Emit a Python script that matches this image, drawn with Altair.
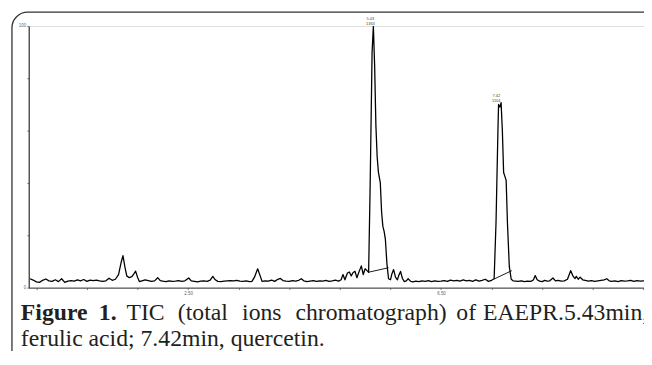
import altair as alt
import pandas as pd

# --- chromatogram trace (time in min, relative abundance %) ---
times = [0.00, 0.05, 0.10, 0.15, 0.20, 0.25, 0.30, 0.35, 0.40, 0.45, 0.50, 0.55, 0.60, 0.65, 0.70,
         0.75, 0.80, 0.85, 0.90, 0.95, 1.00, 1.05, 1.10, 1.15, 1.20, 1.25, 1.30, 1.35,
         1.40, 1.44, 1.47, 1.50, 1.53, 1.57, 1.61, 1.64, 1.67, 1.70, 1.73, 1.77, 1.82, 1.87, 1.92,
         1.97, 2.02, 2.06, 2.10, 2.15, 2.20, 2.25, 2.30, 2.35, 2.40, 2.45, 2.51, 2.55, 2.60, 2.65,
         2.70, 2.75, 2.80, 2.85, 2.89, 2.93, 2.97, 3.02, 3.07, 3.12, 3.17, 3.22, 3.27, 3.32, 3.37,
         3.42, 3.47, 3.51, 3.55, 3.60, 3.64, 3.67, 3.72, 3.77, 3.82, 3.87, 3.92, 3.96, 4.00, 4.05,
         4.10, 4.15, 4.20, 4.25, 4.29, 4.33, 4.38, 4.43, 4.48, 4.53, 4.58, 4.63, 4.68, 4.73, 4.78,
         4.83, 4.88, 4.92, 4.95, 4.98, 5.02, 5.05, 5.08, 5.11, 5.14, 5.17, 5.21, 5.24, 5.27, 5.30,
         5.33, 5.355, 5.38, 5.41, 5.43, 5.45, 5.47, 5.49, 5.51, 5.54, 5.56, 5.58, 5.60, 5.62, 5.645,
         5.67, 5.70, 5.72, 5.75, 5.78, 5.81, 5.83, 5.86, 5.89, 5.92, 5.95, 5.98, 6.02, 6.06, 6.10,
         6.15, 6.20, 6.25, 6.30, 6.35, 6.40, 6.45, 6.50, 6.55, 6.60, 6.65, 6.70, 6.75, 6.80, 6.85,
         6.90, 6.95, 7.00, 7.05, 7.10, 7.15, 7.20, 7.25, 7.30, 7.34, 7.37, 7.40, 7.41, 7.43, 7.45,
         7.47, 7.49, 7.51, 7.53, 7.55, 7.58, 7.61, 7.64, 7.68, 7.72, 7.77, 7.82, 7.87, 7.92, 7.96,
         7.99, 8.02, 8.06, 8.10, 8.14, 8.18, 8.22, 8.27, 8.31, 8.35, 8.40, 8.45, 8.50, 8.55, 8.59,
         8.62, 8.64, 8.67, 8.70, 8.74, 8.78, 8.83, 8.88, 8.93, 8.98, 9.03, 9.08, 9.12, 9.16, 9.20,
         9.25, 9.30, 9.35, 9.40, 9.45, 9.50, 9.55, 9.60, 9.65, 9.70, 9.75, 9.80, 9.84]
abundance = [3.4, 2.9, 2.2, 2.0, 2.8, 3.3, 2.6, 2.4, 3.0, 2.3, 3.4, 2.0, 2.5, 2.7, 2.5,
             3.0, 2.6, 3.1, 2.4, 2.9, 2.7, 2.9, 2.6, 2.4, 2.6, 3.6, 2.8, 3.2,
             5.0, 9.5, 12.2, 8.0, 4.5, 3.8, 4.2, 5.2, 6.3, 4.0, 2.3, 2.6, 3.0, 2.7, 2.4,
             2.6, 3.8, 2.7, 2.5, 2.3, 2.6, 2.4, 2.5, 2.7, 2.4, 2.6, 3.7, 2.6, 2.4, 2.2,
             2.5, 2.6, 2.4, 2.9, 4.3, 3.0, 2.4, 2.3, 2.5, 2.6, 2.7, 2.6, 2.8, 2.5, 2.4,
             2.6, 2.3, 2.4, 4.0, 7.2, 4.5, 2.4, 2.6, 2.5, 2.9, 2.4, 3.2, 3.5, 2.7, 2.5,
             2.4, 2.7, 2.5, 2.8, 3.4, 2.6, 2.3, 2.5, 2.7, 2.4, 2.6, 2.5, 2.8, 2.4, 2.6,
             2.9, 2.5, 3.0, 5.0, 3.0, 5.6, 6.0, 4.5, 5.8, 6.2, 3.8, 6.5, 8.3, 5.0, 7.2,
             6.5, 5.9, 40.0, 90.0, 100.0, 85.0, 62.0, 50.0, 44.0, 40.0, 29.0, 23.5, 21.5, 18.5, 9.0,
             3.4, 3.0, 5.0, 6.9, 4.0, 3.0, 4.5, 6.2, 3.5, 2.3, 2.6, 3.4, 2.4, 2.2, 2.5,
             2.3, 2.6, 2.4, 2.7, 2.3, 2.6, 2.4, 2.5, 2.7, 2.4, 2.9, 2.6, 2.8, 2.5, 3.0,
             2.6, 2.8, 2.4, 3.0, 2.5, 2.8, 3.2, 2.4, 2.8, 3.4, 25.0, 60.0, 70.0, 69.0, 70.7,
             60.0, 44.0, 42.5, 41.0, 25.0, 8.0, 3.2, 2.6, 2.5, 2.4, 2.6, 2.3, 2.5, 2.4, 2.9,
             4.6, 3.0, 2.5, 2.3, 2.8, 2.5, 2.6, 3.7, 2.6, 2.8, 2.5, 2.6, 3.2, 6.5, 4.3,
             3.5, 4.3, 3.2, 4.0, 3.0, 2.8, 2.5, 2.7, 2.4, 2.6, 2.8, 3.0, 3.4, 2.6, 2.4,
             2.6, 2.3, 2.7, 2.5, 2.6, 2.8, 2.4, 2.7, 2.5, 2.6, 2.4, 2.7, 2.6]

# integration baselines under the two labelled peaks
base_group = ["p1", "p1", "p2", "p2"]
base_t = [5.355, 5.67, 7.34, 7.62]
base_i = [5.9, 7.6, 3.3, 6.5]

# peak annotations
peak_t = [5.43, 7.42]
peak_i = [100.0, 70.7]
peak_rt = ["5.43", "7.42"]
peak_area = ["1363", "1104"]

# caption words
bold_words = ["Figure", "1."]
normal_words = ["TIC", "(total", "ions", "chromatograph)", "of", "EAEPR.5.43min,"]
caption_line2 = "ferulic acid; 7.42min, quercetin."

# ---------------------------------------------------------------
W, H = 623, 265
trace = pd.DataFrame({"t": times, "i": abundance})
basel = pd.DataFrame({"g": base_group, "t": base_t, "i": base_i})
peaks = pd.DataFrame({"t": peak_t, "i": peak_i, "rt": peak_rt, "area": peak_area})

xscale = alt.Scale(domain=[-0.02, 9.71], nice=False, zero=False)
yscale = alt.Scale(domain=[0, 100], nice=False)

xvals = [round(k * 0.1, 1) for k in range(1, 98)]
xaxis = alt.Axis(values=xvals, title=None, tickSize=2, tickWidth=0.6, tickColor="#333",
                 domainColor="#333", domainWidth=1, labelFontSize=4.5, labelColor="#666",
                 labelPadding=1, labelOverlap=False, grid=False,
                 labelExpr="round(datum.value*10) % 5 == 0 ? format(datum.value, '.2f') : ''")
yaxis = alt.Axis(values=list(range(0, 101, 10)), title=None, tickSize=2, tickWidth=0.6,
                 tickColor="#333", domainColor="#333", domainWidth=1.2, labelFontSize=4.5,
                 labelColor="#666", labelPadding=1, grid=False,
                 labelExpr="datum.value % 50 == 0 ? datum.value : ''")

line = alt.Chart(trace).mark_line(color="black", strokeWidth=1.3, strokeJoin="round", clip=True).encode(
    x=alt.X("t:Q", scale=xscale, axis=xaxis),
    y=alt.Y("i:Q", scale=yscale, axis=yaxis),
    order="t:Q",
)

bl = alt.Chart(basel).mark_line(color="black", strokeWidth=0.9).encode(
    x=alt.X("t:Q", scale=xscale), y=alt.Y("i:Q", scale=yscale), detail="g:N"
)

lab1 = alt.Chart(peaks).mark_text(fontSize=4, dy=-7, dx=-3, color="#444").encode(
    x=alt.X("t:Q", scale=xscale), y=alt.Y("i:Q", scale=yscale), text="rt:N"
)
lab2 = alt.Chart(peaks).mark_text(fontSize=4, dy=-2, dx=-3, color="#444").encode(
    x=alt.X("t:Q", scale=xscale), y=alt.Y("i:Q", scale=yscale), text="area:N"
)

# decorative rounded frame of the figure box
frame = alt.Chart(pd.DataFrame({"a": [0]})).mark_rect(
    fill=None, stroke="#333", strokeWidth=1.3, cornerRadius=16
).encode(x=alt.value(-17), x2=alt.value(700), y=alt.value(-14), y2=alt.value(345))

# caption (justified first line: one text mark per word)
bold_x = [-8, 71]
normal_x = [99, 151, 216, 270, 433, 460]
capb = pd.DataFrame({"w": bold_words, "x": bold_x})
capn = pd.DataFrame({"w": normal_words, "x": normal_x})
txt = dict(font="Liberation Serif", fontSize=24, align="left", baseline="alphabetic", color="#231f20")
cap1b = alt.Chart(capb).mark_text(fontWeight="bold", **txt).encode(
    x=alt.X("x:Q", scale=None), y=alt.value(298), text="w:N")
cap1n = alt.Chart(capn).mark_text(**txt).encode(
    x=alt.X("x:Q", scale=None), y=alt.value(298), text="w:N")
cap2 = alt.Chart(pd.DataFrame({"w": [caption_line2]})).mark_text(**txt).encode(
    x=alt.value(-8), y=alt.value(324), text="w:N")

chart = alt.layer(frame, line, bl, lab1, lab2, cap1b, cap1n, cap2).properties(
    width=W, height=H,
    autosize=alt.AutoSizeParams(type="none"),
    padding={"left": 21, "top": 16, "right": 0, "bottom": 62},
).configure_view(stroke=None).configure(background="white")

chart.save("out.html", embed_options={"renderer": "svg", "actions": False})
